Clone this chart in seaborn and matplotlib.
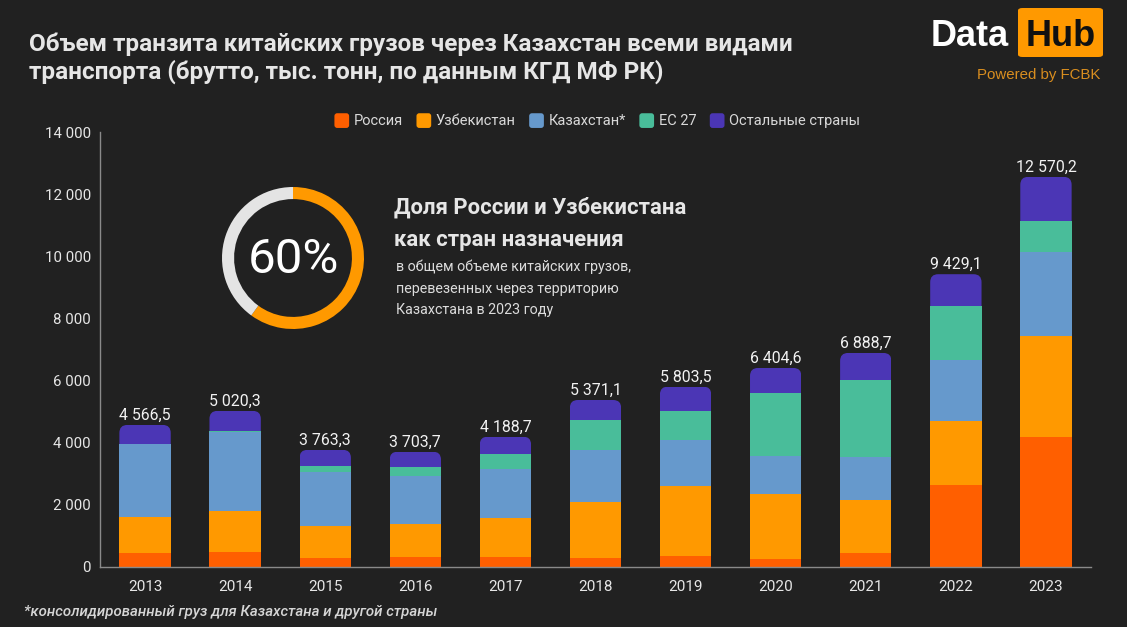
import numpy as np
import pandas as pd
import seaborn as sns
import matplotlib.pyplot as plt
from matplotlib.patches import FancyBboxPatch
from matplotlib.legend_handler import HandlerPatch
from matplotlib.transforms import IdentityTransform

years = ['2013', '2014', '2015', '2016', '2017', '2018', '2019', '2020', '2021', '2022', '2023']
russia = [430, 470, 280, 310, 310, 280, 340, 250, 450, 2630, 4180]
uzbekistan = [1180, 1320, 1020, 1060, 1270, 1810, 2250, 2080, 1710, 2060, 3270]
kazakhstan = [2330, 2540, 1740, 1560, 1580, 1660, 1500, 1250, 1360, 1980, 2710]
eu27 = [10, 30, 190, 270, 475, 970, 920, 2010, 2490, 1730, 980]
others = [616.5, 660.3, 533.3, 503.7, 553.7, 651.1, 793.5, 814.6, 878.7, 1029.1, 1430.2]
totals = [4566.5, 5020.3, 3763.3, 3703.7, 4188.7, 5371.1, 5803.5, 6404.6, 6888.7, 9429.1, 12570.2]
total_labels = ['4 566,5', '5 020,3', '3 763,3', '3 703,7', '4 188,7', '5 371,1', '5 803,5',
                '6 404,6', '6 888,7', '9 429,1', '12 570,2']
series_names = ['Россия', 'Узбекистан', 'Казахстан*', 'ЕС 27', 'Остальные страны']
series_values = [russia, uzbekistan, kazakhstan, eu27, others]
series_colors = ['#ff5f00', '#ff9900', '#6699cc', '#49bd9a', '#4b36b5']
y_ticks = [0, 2000, 4000, 6000, 8000, 10000, 12000, 14000]
y_tick_labels = ['0', '2 000', '4 000', '6 000', '8 000', '10 000', '12 000', '14 000']
donut_values = [60, 40]

W, H = 1127, 627
BG = '#212121'
TXT = '#e6e6e6'

sns.set_theme(style='dark')
plt.rcParams['font.family'] = ['Roboto', 'DejaVu Sans']
plt.rcParams['figure.facecolor'] = BG
plt.rcParams['axes.facecolor'] = BG
plt.rcParams['savefig.facecolor'] = BG


class RoundHandler(HandlerPatch):
    def create_artists(self, legend, orig_handle, xdescent, ydescent, width, height, fontsize, trans):
        p = FancyBboxPatch((1.2, -0.8), 7.6, 7.6, boxstyle='round,pad=1.5,rounding_size=2',
                           fc=orig_handle[0].get_facecolor(), ec='none', transform=trans)
        return [p]


def px_axes(x0, y0, x1, y1):
    return [x0 / W, 1 - y1 / H, (x1 - x0) / W, (y1 - y0) / H]


fig = plt.figure(figsize=(W / 100, H / 100), dpi=100)
ax = fig.add_axes(px_axes(100, 132.5, 1091, 566.5))

df = pd.DataFrame({'year': years})
bottom = np.zeros(len(years))
containers = []
for name, vals, col in zip(series_names, series_values, series_colors):
    df['v'] = vals
    sns.barplot(data=df, x='year', y='v', bottom=bottom, color=col, width=0.57, saturation=1,
                label=name, ax=ax, errorbar=None, linewidth=0)
    containers.append(ax.containers[-1])
    bottom = bottom + np.array(vals)

ax.set_xlim(-0.5, 10.5)
ax.set_ylim(0, 14000)
ax.set_xlabel('')
ax.set_ylabel('')
ax.set_yticks(y_ticks)
ax.set_yticklabels(y_tick_labels)
ax.grid(False)
ax.tick_params(axis='x', colors=TXT, labelsize=11, length=3, width=1, color='#8a8a8a', pad=6.5)
ax.tick_params(axis='y', colors=TXT, labelsize=10.8, length=3, width=1, color='#8a8a8a', pad=3.6)
for s in ['top', 'right']:
    ax.spines[s].set_visible(False)
for s in ['left', 'bottom']:
    ax.spines[s].set_color('#8a8a8a')
    ax.spines[s].set_linewidth(1)

# round only the top of each stack
fig.canvas.draw()
for bar in containers[-1]:
    (x0, y0), (x1, y1) = ax.transData.transform([(bar.get_x(), bar.get_y()),
                                                 (bar.get_x() + bar.get_width(), bar.get_y() + bar.get_height())])
    r = 8
    clip = FancyBboxPatch((x0 + r, y0 - 20), x1 - x0 - 2 * r, y1 - y0 + 20 - r,
                          boxstyle=f'round,pad={r},rounding_size={r}', transform=IdentityTransform())
    bar.set_clip_path(clip)

for i, (t, lab) in enumerate(zip(totals, total_labels)):
    ax.annotate(lab, (i, t), xytext=(0, 1.5), textcoords='offset points', ha='center', va='bottom',
                color='#f2f2f2', fontsize=11.4, fontweight='normal')

handles, labels = ax.get_legend_handles_labels()
leg = ax.legend(handles, labels, ncols=5, loc='center', bbox_to_anchor=(597.5 / W, 1 - 120.5 / H),
                bbox_transform=fig.transFigure, frameon=False, fontsize=10.5, labelcolor='#d9d9d9',
                handler_map={h: RoundHandler() for h in handles}, handlelength=1.0, handleheight=1.0,
                handletextpad=0.3, columnspacing=0.95, borderpad=0)

# donut
ax_d = fig.add_axes(px_axes(222, 187, 364, 329))
ax_d.pie(donut_values, colors=['#ff9900', '#e4e4e4'], startangle=90, counterclock=False, radius=1,
         wedgeprops=dict(width=0.17, linewidth=0))
ax_d.set_xlim(-1, 1)
ax_d.set_ylim(-1, 1)
ax_d.patch.set_alpha(0)
ax_d.text(0, -0.03, '60%', ha='center', va='center', color='white', fontsize=35.5, fontweight='normal')


def put(x, y, s, **kw):
    return fig.text(x / W, 1 - y / H, s, **kw)


put(29, 44.5, 'Объем транзита китайских грузов через Казахстан всеми видами', color=TXT, fontsize=17.5,
    fontweight='bold', va='center')
put(29, 72, 'транспорта (брутто, тыс. тонн, по данным КГД МФ РК)', color=TXT, fontsize=17.5,
    fontweight='bold', va='center')
put(394, 207.5, 'Доля России и Узбекистана', color=TXT, fontsize=15.9, fontweight='bold', va='center')
put(394, 240, 'как стран назначения', color=TXT, fontsize=15.9, fontweight='bold', va='center')
put(396.5, 267, 'в общем объеме китайских грузов,', color='#dcdcdc', fontsize=10.25, va='center')
put(396.5, 289, 'перевезенных через территорию', color='#dcdcdc', fontsize=10.25, va='center')
put(396.5, 310, 'Казахстана в 2023 году', color='#dcdcdc', fontsize=10.25, va='center')
put(24, 612, '*консолидированный груз для Казахстана и другой страны', color='#d6d6d6', fontsize=10.8,
    fontstyle='italic', fontweight='medium', va='center')

# logo
fig.add_artist(FancyBboxPatch((1018 / W, 1 - 57 / H), 85 / W, 49 / H, boxstyle='round,pad=0,rounding_size=0.004',
                              transform=fig.transFigure, fc='#ff9900', ec='none'))
put(931, 37, 'Data', color='white', fontsize=26, fontweight='bold', family='Liberation Sans', va='center')
put(1061, 37, 'Hub', color='#111111', fontsize=26, fontweight='bold', family='Liberation Sans', va='center', ha='center')
put(1100, 75, 'Powered by FCBK', color='#d98e1f', fontsize=10.8, family='Liberation Sans', va='center', ha='right')

fig.savefig('out.png', dpi=100)
